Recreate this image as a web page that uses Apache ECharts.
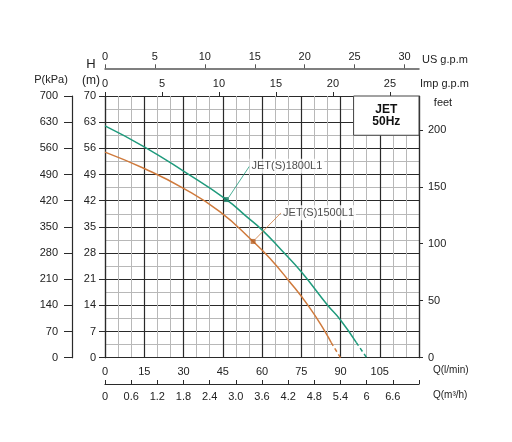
<!DOCTYPE html>
<html>
<head>
<meta charset="utf-8">
<script src="https://cdn.jsdelivr.net/npm/echarts@6/dist/echarts.min.js"></script>
<style>
html,body{margin:0;padding:0;background:#fff;}
#chartmain{width:512px;height:442px;}
</style>
</head>
<body>
<div id="chartmain"></div>
<script>
// curve JET(S)1800L1  (Q l/min -> H m)
var q1800 = [0, 15, 30, 46.4, 54, 60, 67.4, 75, 85, 90, 96];
var h1800 = [62, 56.4, 49.9, 42.3, 37.8, 34.2, 28.8, 23.0, 14.1, 10.1, 4.1];
var q1800Tail = [96, 100];
var h1800Tail = [4.1, 0];
var point1800 = [46.4, 42.3];

// curve JET(S)1500L1
var q1500 = [0, 15, 30, 44, 56.6, 63, 70, 78, 84.6, 86.4];
var h1500 = [55, 50.6, 45.3, 39.0, 31.1, 26.6, 20.8, 13.6, 6.4, 4.1];
var q1500Tail = [86.4, 90];
var h1500Tail = [4.1, 0];
var point1500 = [56.6, 31.1];

// tick labels
var m3hLabels = ['0', '0.6', '1.2', '1.8', '2.4', '3.0', '3.6', '4.2', '4.8', '5.4', '6', '6.6', ''];
var impTicks = [0, 5, 10, 15, 20, 25];
var usTicks = [0, 5, 10, 15, 20, 25, 30];
var feetTicks = [0, 50, 100, 150, 200];

function pairs(xs, ys) {
    return xs.map(function(x, i) { return [x, ys[i]]; });
}

var dark = '#2a2a2a';
var minor = '#b8b8b8';
var txt = '#222';
var green = '#1f9a7c';
var orange = '#cf7a3c';
var ff = 'Liberation Sans, Arial, sans-serif';

var myChart = echarts.init(document.getElementById('chartmain'));
var options = {
    animation: false,
    backgroundColor: '#fff',
    textStyle: { fontFamily: ff, color: txt },
    grid: { left: 105, right: 93, top: 96, bottom: 84.3, outerBoundsMode: 'none' },
    xAxis: [
        {   // Q (l/min)
            type: 'value', position: 'bottom', min: 0, max: 120, interval: 15,
            name: 'Q(l/min)', nameLocation: 'end', nameGap: 14, nameMoveOverlap: false,
            nameTextStyle: { fontSize: 10, color: txt, verticalAlign: 'top', padding: [8, 0, 0, 0] },
            axisLine: { show: true, onZero: false, lineStyle: { color: dark, width: 1.2 } },
            axisTick: { show: false },
            axisLabel: { fontSize: 11, color: txt, margin: 9,
                formatter: function(v) { return v === 120 ? '' : v; } },
            splitLine: { show: true, lineStyle: { color: dark, width: 1.2 } },
            minorTick: { show: false, splitNumber: 3 },
            minorSplitLine: { show: true, lineStyle: { color: minor, width: 1 } }
        },
        {   // Q (m3/h)
            type: 'value', position: 'bottom', offset: 26.3, min: 0, max: 7.2, interval: 0.6,
            name: 'Q(m³/h)', nameLocation: 'end', nameGap: 14, nameMoveOverlap: false,
            nameTextStyle: { fontSize: 10, color: txt, verticalAlign: 'top', padding: [6, 0, 0, 0] },
            axisLine: { show: true, onZero: false, lineStyle: { color: dark, width: 1.2 } },
            axisTick: { show: true, inside: true, length: 4, lineStyle: { color: dark } },
            axisLabel: { fontSize: 11, color: txt, margin: 7,
                formatter: function(v, i) { return m3hLabels[i] || ''; } },
            splitLine: { show: false }
        },
        {   // Imp g.p.m
            type: 'value', position: 'top', min: 0, max: 27.55,
            name: 'Imp g.p.m', nameLocation: 'end', nameGap: 1, nameMoveOverlap: false,
            nameTextStyle: { fontSize: 11, color: txt, verticalAlign: 'bottom', padding: [0, 0, 7, 0] },
            axisLine: { show: false, onZero: false },
            axisTick: { show: true, length: 4, customValues: impTicks, lineStyle: { color: dark } },
            axisLabel: { fontSize: 11, color: txt, margin: 7, customValues: impTicks },
            splitLine: { show: false }
        },
        {   // US g.p.m
            type: 'value', position: 'top', offset: 27.7, min: 0, max: 31.45,
            name: 'US g.p.m', nameLocation: 'end', nameGap: 3, nameMoveOverlap: false,
            nameTextStyle: { fontSize: 11, color: txt, verticalAlign: 'bottom', padding: [0, 0, 3, 0] },
            axisLine: { show: true, onZero: false, lineStyle: { color: '#555', width: 1.5 } },
            axisTick: { show: true, length: 4, customValues: usTicks, lineStyle: { color: '#555' } },
            axisLabel: { fontSize: 11, color: txt, margin: 6, customValues: usTicks },
            splitLine: { show: false }
        }
    ],
    yAxis: [
        {   // H (m)
            type: 'value', position: 'left', min: 0, max: 70, interval: 7,
            name: '{h|H}\n{m|(m)}', nameLocation: 'end', nameGap: 7.5, nameMoveOverlap: false,
            nameTextStyle: { align: 'center', verticalAlign: 'bottom', padding: [0, 28, 0, 0],
                rich: { h: { fontSize: 13, lineHeight: 16, color: txt }, m: { fontSize: 12, lineHeight: 16, color: txt } } },
            axisLine: { show: true, onZero: false, lineStyle: { color: dark, width: 1.2 } },
            axisTick: { show: true, length: 6, lineStyle: { color: dark } },
            axisLabel: { fontSize: 11, color: txt, margin: 9 },
            splitLine: { show: true, lineStyle: { color: dark, width: 1.2 } },
            minorTick: { show: false, splitNumber: 2 },
            minorSplitLine: { show: true, lineStyle: { color: minor, width: 1 } }
        },
        {   // P (kPa)
            type: 'value', position: 'left', offset: 33, min: 0, max: 700, interval: 70,
            name: 'P(kPa)', nameLocation: 'end', nameGap: 11, nameMoveOverlap: false,
            nameTextStyle: { fontSize: 11, color: txt, align: 'center', verticalAlign: 'bottom', padding: [0, 42, 0, 0] },
            axisLine: { show: true, onZero: false, lineStyle: { color: dark, width: 1.2 } },
            axisTick: { show: true, length: 8, lineStyle: { color: dark } },
            axisLabel: { fontSize: 11, color: txt, margin: 14 },
            splitLine: { show: false }
        },
        {   // feet
            type: 'value', position: 'right', min: 0, max: 229.66,
            name: 'feet', nameLocation: 'end', nameGap: -7, nameMoveOverlap: false,
            nameTextStyle: { fontSize: 11, color: txt, align: 'center', verticalAlign: 'middle', padding: [0, 0, 0, 48] },
            axisLine: { show: true, onZero: false, lineStyle: { color: dark, width: 1.2 } },
            axisTick: { show: true, length: 4, customValues: feetTicks, lineStyle: { color: dark } },
            axisLabel: { fontSize: 11, color: txt, margin: 9, customValues: feetTicks },
            splitLine: { show: false }
        }
    ],
    series: [
        {
            name: 'JET(S)1800L1', type: 'line', xAxisIndex: 0, yAxisIndex: 0,
            data: pairs(q1800, h1800), smooth: true, showSymbol: false,
            lineStyle: { color: green, width: 1.5 },
            markArea: {
                silent: true,
                itemStyle: { color: '#fff', borderColor: '#444', borderWidth: 1 },
                label: { show: true, position: 'inside', formatter: 'JET\n50Hz',
                    fontSize: 12, fontWeight: 'bold', lineHeight: 12.5, color: '#111', fontFamily: ff },
                data: [[{ coord: [95, 59.5] }, { coord: [120, 70] }]]
            }
        },
        {
            type: 'line', xAxisIndex: 0, yAxisIndex: 0,
            data: pairs(q1800Tail, h1800Tail), showSymbol: false,
            lineStyle: { color: green, width: 1.5, type: [4, 3] }
        },
        {
            name: 'JET(S)1500L1', type: 'line', xAxisIndex: 0, yAxisIndex: 0,
            data: pairs(q1500, h1500), smooth: true, showSymbol: false,
            lineStyle: { color: orange, width: 1.5 }
        },
        {
            type: 'line', xAxisIndex: 0, yAxisIndex: 0,
            data: pairs(q1500Tail, h1500Tail), showSymbol: false,
            lineStyle: { color: orange, width: 1.5, type: [4, 3] }
        },
        {
            type: 'scatter', xAxisIndex: 0, yAxisIndex: 0, z: 5,
            symbol: 'rect', symbolSize: 5,
            itemStyle: { color: '#137a60' },
            data: [point1800],
            label: { show: true, position: 'right', distance: 5, formatter: 'JET(S)1800L1',
                fontSize: 11, color: txt, backgroundColor: '#fff', padding: [2, 2], fontFamily: ff },
            labelLayout: { dx: 15.5, dy: -33.3 },
            labelLine: { show: true, lineStyle: { color: green, width: 0.8 } }
        },
        {
            type: 'scatter', xAxisIndex: 0, yAxisIndex: 0, z: 5,
            symbol: 'rect', symbolSize: 5,
            itemStyle: { color: '#b85f22' },
            data: [point1500],
            label: { show: true, position: 'right', distance: 5, formatter: 'JET(S)1500L1',
                fontSize: 11, color: txt, backgroundColor: '#fff', padding: [2, 2], fontFamily: ff },
            labelLayout: { dx: 20.5, dy: -28.7 },
            labelLine: { show: true, lineStyle: { color: orange, width: 0.8 } }
        }
    ]
};
myChart.setOption(options);
</script>
</body>
</html>
